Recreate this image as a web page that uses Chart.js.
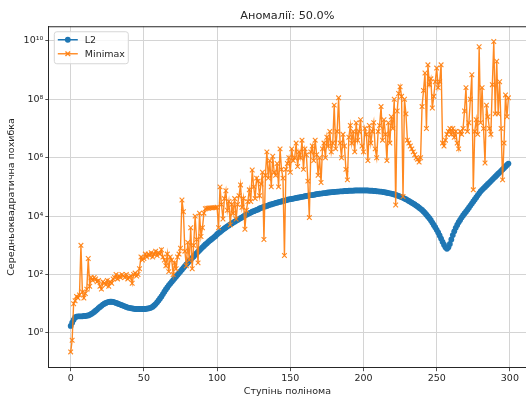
<!DOCTYPE html>
<html>
<head>
<meta charset="utf-8">
<script src="https://cdn.jsdelivr.net/npm/chart.js@4.4.1/dist/chart.umd.min.js"></script>
<style>
  html, body { margin: 0; padding: 0; background: #fff; }
  #wrap { width: 526px; height: 401px; }
</style>
</head>
<body>
<div id="wrap"><canvas id="chart" width="526" height="401"></canvas></div>
<script>
// --- data ---
const chartTitle = 'Аномалії: 50.0%';
const xTitle = 'Ступінь полінома';
const yTitle = 'Середньоквадратична похибка';
const seriesNames = ['L2', 'Minimax'];

const xTickValues = [0, 50, 100, 150, 200, 250, 300];
const yTickValues = [1e0, 1e2, 1e4, 1e6, 1e8, 1e10];
const yTickLabels = ['10⁰', '10²', '10⁴', '10⁶', '10⁸', '10¹⁰'];

// L2 error, degree 0..299
const l2Values = [
  1.74, 2.24, 2.82, 3.39, 3.63, 3.72, 3.72, 3.72, 3.72, 3.80,
  3.80, 3.89, 3.98, 4.17, 4.47, 4.79, 5.25, 5.75, 6.31, 7.08,
  7.76, 8.51, 9.33, 10.0, 10.7, 11.2, 11.5, 11.7, 11.7, 11.5,
  11.2, 10.7, 10.2, 9.77, 9.33, 8.91, 8.51, 8.13, 7.76, 7.41,
  7.24, 7.08, 6.92, 6.76, 6.61, 6.61, 6.61, 6.61, 6.61, 6.61,
  6.61, 6.61, 6.76, 6.92, 7.08, 7.41, 7.94, 8.71, 9.77, 11.2,
  12.9, 15.1, 17.8, 21.4, 25.7, 30.9, 36.3, 42.7, 49.0, 56.2,
  64.6, 74.1, 85.1, 97.7, 112, 129, 148, 170, 195, 224,
  251, 288, 324, 372, 417, 479, 537, 603, 676, 759,
  851, 955, 1070, 1170, 1320, 1450, 1580, 1740, 1910, 2090,
  2400, 2630, 2880, 3160, 3470, 3800, 4070, 4470, 4790, 5250,
  5620, 6030, 6460, 6920, 7410, 7940, 8510, 9120, 9770, 10500,
  11200, 11700, 12600, 13200, 14100, 14800, 15500, 16200, 17000, 18200,
  19100, 20000, 20900, 21400, 22400, 23400, 24500, 25100, 26300, 26900,
  28200, 28800, 30200, 30900, 31600, 33100, 33900, 34700, 36300, 37200,
  38000, 38900, 39800, 40700, 41700, 42700, 43700, 44700, 45700, 46800,
  47900, 49000, 50100, 51300, 52500, 52500, 53700, 55000, 56200, 57500,
  58900, 58900, 60300, 61700, 61700, 63100, 64600, 64600, 66100, 66100,
  67600, 67600, 69200, 69200, 70800, 70800, 70800, 72400, 72400, 72400,
  74100, 74100, 74100, 74100, 75900, 75900, 75900, 75900, 75900, 75900,
  75900, 75900, 75900, 75900, 74100, 74100, 74100, 72400, 72400, 70800,
  70800, 69200, 69200, 67600, 66100, 64600, 63100, 61700, 60300, 58900,
  57500, 55000, 53700, 51300, 49000, 46800, 44700, 42700, 39800, 38000,
  35500, 33100, 30900, 28800, 26900, 25100, 22900, 21400, 19500, 17800,
  16200, 14500, 12900, 11200, 9770, 8510, 7240, 6030, 5010, 4170,
  3390, 2750, 2190, 1700, 1320, 1050, 851, 759, 851, 1120,
  1580, 2240, 3020, 3980, 5010, 6170, 7410, 8910, 10500, 12300,
  14100, 16600, 19500, 22900, 26900, 31600, 37200, 43700, 51300, 60300,
  70800, 79400, 89100, 1.0e5, 1.12e5, 1.26e5, 1.41e5, 1.58e5, 1.78e5, 2.0e5,
  2.24e5, 2.51e5, 2.82e5, 3.16e5, 3.55e5, 3.98e5, 4.47e5, 5.01e5, 5.62e5, 6.31e5
];

// Minimax error, degree 0..299
const minimaxValues = [
  0.224, 0.562, 10, 12.6, 17.8, 15.8, 20, 1000, 25.1, 15.8,
  22.4, 31.6, 355, 39.8, 79.4, 63.1, 79.4, 70.8, 56.2, 63.1,
  39.8, 31.6, 56.2, 50.1, 44.7, 63.1, 39.8, 56.2, 50.1, 70.8,
  79.4, 100, 70.8, 89.1, 79.4, 100, 89.1, 79.4, 100, 70.8,
  79.4, 89.1, 50.1, 100, 112, 89.1, 100, 158, 398, 316,
  355, 501, 398, 501, 447, 562, 398, 501, 631, 447,
  562, 501, 708, 398, 316, 200, 501, 126, 398, 316,
  100, 251, 158, 398, 501, 794, 35500, 14100, 631, 200,
  1260, 316, 3980, 158, 1000, 10000, 1580, 251, 12600, 2000,
  3980, 12600, 17800, 18600, 18600, 19100, 19100, 19100, 19500, 19500,
  2.0e4, 3980, 1.0e5, 2.51e4, 7940, 3.98e4, 7.41e4, 1.58e4, 3.16e4, 5010,
  2.51e4, 1.26e4, 3.98e4, 7940, 2.51e4, 5.01e4, 1.17e5, 2.0e4, 3.98e4, 3550,
  1.58e4, 3.16e4, 7.94e4, 3.16e4, 3.8e5, 1.0e5, 3.98e4, 2.0e5, 1.58e5, 5.01e4,
  1.26e5, 3.16e5, 1580, 2.51e5, 1.58e6, 2.0e5, 7.94e5, 1.0e5, 1.12e6, 3.16e5,
  2.51e5, 6.31e5, 1.0e5, 2.0e6, 3.98e5, 2.0e5, 447, 3.98e5, 6.31e5, 1.0e6,
  3.16e5, 2.0e6, 7.94e5, 1.0e6, 3.16e6, 5.01e5, 1.58e6, 1.0e6, 3.98e6, 3.98e5,
  2.0e6, 1.26e6, 1.58e5, 8910, 1.58e6, 2.51e6, 7.94e5, 3.98e6, 1.26e6, 2.51e5,
  1.0e6, 1.41e5, 2.0e6, 3.16e6, 1.0e6, 5.01e6, 2.51e6, 7.94e6, 1.58e6, 3.16e6,
  6.31e7, 2.0e6, 7.94e6, 1.12e8, 3.16e6, 1.0e6, 6.31e6, 2.51e6, 3.98e5, 1.74e5,
  5.01e6, 1.26e7, 3.16e6, 7.94e6, 1.58e6, 1.58e7, 3.98e6, 7.94e6, 2.0e7, 2.51e6,
  1.58e6, 1.0e7, 6.31e6, 7.94e5, 1.26e7, 3.16e6, 7.94e6, 1.58e7, 2.0e6, 1.0e6,
  7.94e6, 1.26e7, 5.62e7, 3.98e6, 2.0e7, 6.31e6, 7.94e5, 1.58e7, 3.16e6, 2.51e7,
  1.0e7, 1.0e8, 2.4e4, 3.98e7, 1.58e8, 2.69e8, 1.26e8, 4.68e4, 1.0e8, 3.16e7,
  3.98e6, 3.16e6, 2.51e6, 2.0e6, 1.58e6, 1.26e6, 1.0e6, 8.91e5, 7.08e5, 1.0e6,
  5.62e7, 2.0e8, 7.94e8, 1.0e7, 1.51e9, 3.16e8, 5.01e8, 5.01e7, 1.26e8, 3.98e8,
  1.17e9, 2.51e8, 3.98e8, 1.51e9, 3.16e6, 2.51e6, 3.98e6, 6.31e6, 7.94e6, 1.0e7,
  6.31e6, 1.0e7, 5.01e6, 7.94e6, 3.16e6, 2.0e6, 7.94e6, 6.31e6, 1.0e7, 3.98e7,
  2.51e8, 7.94e6, 1.58e7, 1.0e8, 6.92e8, 7.94e4, 7.94e6, 2.0e7, 6.31e6, 6.31e9,
  1.58e7, 2.51e8, 1.0e7, 6.61e5, 6.31e7, 2.51e7, 1.0e7, 6.31e6, 3.16e8, 9.55e9,
  3.16e7, 2.0e9, 3.16e7, 3.98e8, 1.0e7, 1.74e5, 3.16e6, 1.41e8, 2.51e7, 1.12e8
];

const degrees = l2Values.map((_, i) => i);

const BLUE = '#1f77b4';
const ORANGE = '#ff7f0e';
const FONT = 'DejaVu Sans';

// matplotlib-like top spine (right spine is outside the picture)
const topSpine = {
  id: 'topSpine',
  afterDraw(chart) {
    const { ctx, chartArea } = chart;
    ctx.save();
    ctx.strokeStyle = '#262626';
    ctx.lineWidth = 1;
    ctx.beginPath();
    ctx.moveTo(chartArea.left, chartArea.top + 0.5);
    ctx.lineTo(chartArea.right, chartArea.top + 0.5);
    ctx.stroke();
    ctx.restore();
  }
};

// legend box inside the axes, upper left
const innerLegend = {
  id: 'innerLegend',
  afterDraw(chart) {
    const { ctx, chartArea } = chart;
    const x = chartArea.left + 5, y = chartArea.top + 5;
    const w = 74, h = 32;
    ctx.save();
    ctx.fillStyle = 'rgba(255,255,255,0.8)';
    ctx.strokeStyle = '#d6d6d6';
    ctx.lineWidth = 1;
    ctx.beginPath();
    ctx.roundRect(x + 0.5, y + 0.5, w, h, 2.5);
    ctx.fill();
    ctx.stroke();
    ctx.font = '9.5px "' + FONT + '"';
    ctx.textBaseline = 'middle';
    chart.data.datasets.forEach((ds, i) => {
      const ry = y + 8.5 + i * 14;
      ctx.strokeStyle = ds.borderColor;
      ctx.lineWidth = ds.borderWidth;
      ctx.beginPath();
      ctx.moveTo(x + 4, ry);
      ctx.lineTo(x + 24, ry);
      ctx.stroke();
      ctx.fillStyle = ds.pointBackgroundColor;
      ctx.strokeStyle = ds.pointBorderColor;
      Chart.helpers.drawPoint(ctx, {
        pointStyle: ds.pointStyle,
        radius: ds.pointRadius,
        borderWidth: ds.pointBorderWidth
      }, x + 14, ry);
      ctx.fillStyle = '#262626';
      ctx.fillText(ds.label, x + 31, ry + 0.5);
    });
    ctx.restore();
  }
};

new Chart(document.getElementById('chart'), {
  type: 'line',
  data: {
    datasets: [
      {
        label: seriesNames[0],
        data: degrees.map((d, i) => ({ x: d, y: l2Values[i] })),
        borderColor: BLUE,
        backgroundColor: BLUE,
        borderWidth: 1.5,
        pointStyle: 'circle',
        pointRadius: 2.9,
        pointBackgroundColor: BLUE,
        pointBorderColor: BLUE,
        pointBorderWidth: 0,
        order: 2
      },
      {
        label: seriesNames[1],
        data: degrees.map((d, i) => ({ x: d, y: minimaxValues[i] })),
        borderColor: 'rgba(255,127,14,0.92)',
        backgroundColor: ORANGE,
        borderWidth: 1.4,
        pointStyle: 'crossRot',
        pointRadius: 3.3,
        pointBackgroundColor: ORANGE,
        pointBorderColor: 'rgba(255,127,14,0.92)',
        pointBorderWidth: 1.1,
        order: 1
      }
    ]
  },
  options: {
    responsive: false,
    animation: false,
    layout: { padding: 0, autoPadding: false },
    elements: { line: { tension: 0 } },
    plugins: {
      legend: { display: false },
      tooltip: { enabled: false },
      title: {
        display: true,
        text: chartTitle,
        fullSize: false,
        color: '#262626',
        font: { family: FONT, size: 11.3, weight: 'normal' },
        padding: { top: 9.3, bottom: 3.4 }
      }
    },
    scales: {
      x: {
        type: 'linear',
        min: -14.95,
        max: 311,
        afterBuildTicks: (s) => { s.ticks = xTickValues.map(v => ({ value: v })); },
        afterFit: (s) => { s.height = 33.3; s.paddingLeft = 0; s.paddingRight = 0; },
        ticks: {
          autoSkip: false,
          maxRotation: 0,
          padding: 2,
          color: '#262626',
          font: { family: FONT, size: 9.5 }
        },
        grid: { color: '#d4d4d4', lineWidth: 1, tickColor: '#262626', tickLength: 3.5, tickWidth: 0.8 },
        border: { display: true, color: '#262626', width: 1 },
        title: {
          display: true,
          text: xTitle,
          color: '#262626',
          font: { family: FONT, size: 9.5 },
          padding: { top: 0, bottom: 3.3 }
        }
      },
      y: {
        type: 'logarithmic',
        min: 0.0646,
        max: 3.16e10,
        afterBuildTicks: (s) => { s.ticks = yTickValues.map(v => ({ value: v })); },
        afterFit: (s) => { s.width = 48.8; s.paddingTop = 0; s.paddingBottom = 0; },
        ticks: {
          autoSkip: false,
          padding: 2,
          color: '#262626',
          font: { family: FONT, size: 9.5 },
          callback: (v, i) => yTickLabels[i]
        },
        grid: { color: '#d4d4d4', lineWidth: 1, tickColor: '#262626', tickLength: 3.5, tickWidth: 0.8 },
        border: { display: true, color: '#262626', width: 1 },
        title: {
          display: true,
          text: yTitle,
          color: '#262626',
          font: { family: FONT, size: 9.5 },
          padding: { top: 6.3, bottom: 0 }
        }
      }
    }
  },
  plugins: [topSpine, innerLegend]
});
</script>
</body>
</html>
